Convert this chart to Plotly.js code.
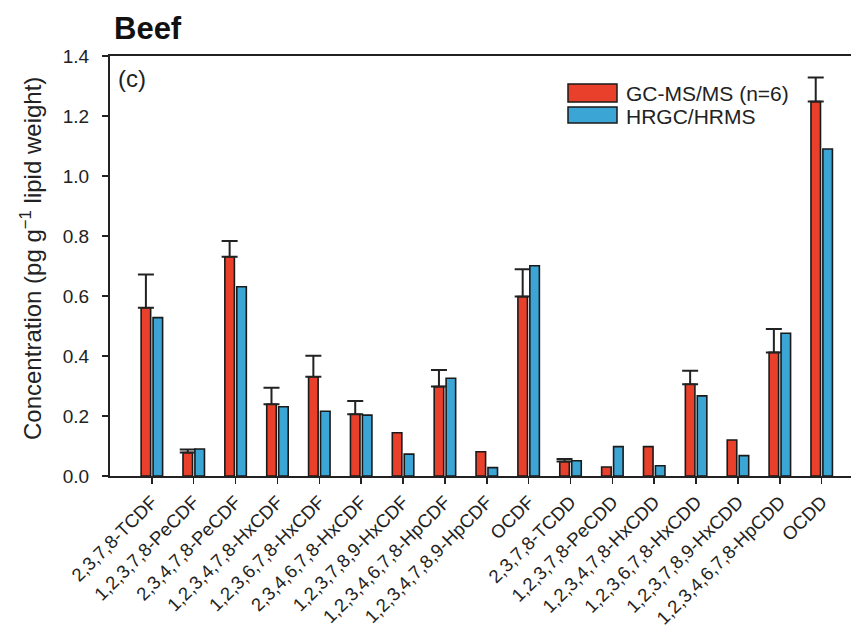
<!DOCTYPE html>
<html>
<head>
<meta charset="utf-8">
<script src="https://cdn.plot.ly/plotly-3.0.1.min.js"></script>
<style>html,body{margin:0;padding:0;background:#fff;}#chart{width:851px;height:633px;}</style>
</head>
<body>
<div id="chart"></div>
<script>
var categories = ["2,3,7,8-TCDF","1,2,3,7,8-PeCDF","2,3,4,7,8-PeCDF","1,2,3,4,7,8-HxCDF","1,2,3,6,7,8-HxCDF","2,3,4,6,7,8-HxCDF","1,2,3,7,8,9-HxCDF","1,2,3,4,6,7,8-HpCDF","1,2,3,4,7,8,9-HpCDF","OCDF","2,3,7,8-TCDD","1,2,3,7,8-PeCDD","1,2,3,4,7,8-HxCDD","1,2,3,6,7,8-HxCDD","1,2,3,7,8,9-HxCDD","1,2,3,4,6,7,8-HpCDD","OCDD"];
var gcmsms = [0.561,0.078,0.731,0.239,0.331,0.206,0.144,0.298,0.081,0.598,0.048,0.030,0.098,0.306,0.120,0.412,1.248];
var gcmsmsErr = [0.111,0.010,0.052,0.055,0.070,0.044,null,0.055,null,0.091,0.009,null,null,0.045,null,0.078,0.080];
var hrgc = [0.528,0.090,0.631,0.231,0.216,0.203,0.073,0.326,0.028,0.701,0.051,0.098,0.034,0.267,0.068,0.476,1.090];
var seriesNames = ["GC-MS/MS (n=6)","HRGC/HRMS"];
var colors = ["#e8402a","#3ba5d6"];
var yTicks = [0,0.2,0.4,0.6,0.8,1.0,1.2,1.4];

var xIdx = categories.map(function(c,i){return i;});
var font = "Liberation Sans, Arial, sans-serif";
var errUp = gcmsmsErr.map(function(v){return v === null ? NaN : v;});
var errDown = gcmsmsErr.map(function(v){return v === null ? NaN : 0;});

var traces = [
  {type:"bar", x:xIdx, y:gcmsms, name:seriesNames[0],
   marker:{color:colors[0], line:{color:"#1a1a1a", width:1.6}},
   error_y:{type:"data", symmetric:false, array:errUp, arrayminus:errDown,
            color:"#222", thickness:2, width:8},
   showlegend:false},
  {type:"bar", x:xIdx, y:hrgc, name:seriesNames[1],
   marker:{color:colors[1], line:{color:"#1a1a1a", width:1.6}},
   showlegend:false}
];

var layout = {
  width:851, height:633,
  margin:{l:110, r:0, t:56, b:157},
  paper_bgcolor:"#fff", plot_bgcolor:"#fff",
  font:{family:font, color:"#222"},
  barmode:"group", bargap:0.43, bargroupgap:0.2,
  xaxis:{range:[-1,16.7], tickmode:"array", tickvals:xIdx, ticktext:categories,
         tickangle:-45, tickfont:{size:18.5, family:font, color:"#222"},
         showline:true, linecolor:"#222", linewidth:2, mirror:true,
         ticks:"outside", ticklen:6, tickcolor:"#222", tickwidth:1.5,
         showgrid:false, zeroline:false, fixedrange:true},
  yaxis:{range:[0,1.4], tickmode:"array", tickvals:yTicks, tickformat:".1f",
         tickfont:{size:19, family:font, color:"#222"}, ticklabelstandoff:9,
         showline:true, linecolor:"#222", linewidth:2,
         ticks:"outside", ticklen:6, tickcolor:"#222", tickwidth:1.5,
         showgrid:false, zeroline:false, fixedrange:true},
  shapes:[
    {type:"rect", xref:"paper", yref:"paper", x0:(568-110)/741, x1:(617-110)/741, y0:(476-102)/420, y1:(476-84)/420,
     fillcolor:colors[0], line:{color:"#1a1a1a", width:1.5}},
    {type:"rect", xref:"paper", yref:"paper", x0:(568-110)/741, x1:(617-110)/741, y0:(476-123)/420, y1:(476-107)/420,
     fillcolor:colors[1], line:{color:"#1a1a1a", width:1.5}}
  ],
  annotations:[
    {text:"<b>Beef</b>", xref:"paper", yref:"paper", x:(112-110)/741, y:(476-28)/420, xanchor:"left", yanchor:"middle",
     showarrow:false, font:{size:31, family:font, color:"#111"}},
    {text:"(c)", xref:"paper", yref:"paper", x:(116-110)/741, y:(476-78)/420, xanchor:"left", yanchor:"middle",
     showarrow:false, font:{size:24, family:font, color:"#222"}},
    {text:seriesNames[0], xref:"paper", yref:"paper", x:(624-110)/741, y:(476-93)/420, xanchor:"left", yanchor:"middle",
     showarrow:false, font:{size:21, family:font, color:"#222"}},
    {text:seriesNames[1], xref:"paper", yref:"paper", x:(624-110)/741, y:(476-116)/420, xanchor:"left", yanchor:"middle",
     showarrow:false, font:{size:21, family:font, color:"#222"}},
    {text:"Concentration (pg g<sup>−1</sup> lipid weight)", xref:"paper", yref:"paper", x:(31-110)/741, y:(476-259)/420,
     xanchor:"center", yanchor:"middle", textangle:-90, showarrow:false, font:{size:24, family:font, color:"#222"}}
  ]
};

Plotly.newPlot("chart", traces, layout, {displayModeBar:false, staticPlot:true});
</script>
</body>
</html>
